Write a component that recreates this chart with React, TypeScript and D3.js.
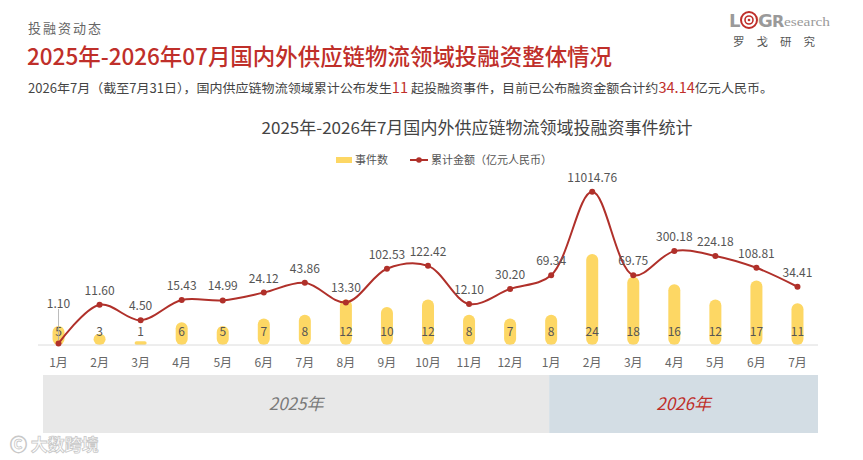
import * as d3 from 'd3';
import React from 'react';

const months = ['1月', '2月', '3月', '4月', '5月', '6月', '7月', '8月', '9月', '10月', '11月', '12月', '1月', '2月', '3月', '4月', '5月', '6月', '7月'];
const eventCounts = [5, 3, 1, 6, 5, 7, 8, 12, 10, 12, 8, 7, 8, 24, 18, 16, 12, 17, 11];
const amounts = [1.10, 11.60, 4.50, 15.43, 14.99, 24.12, 43.86, 13.30, 102.53, 122.42, 12.10, 30.20, 69.34, 11014.76, 69.75, 300.18, 224.18, 108.81, 34.41];
const years = ['2025年', '2026年'];
const yearStarts = [0, 12];

const W = 863;
const H = 460;
const FONT = '"Noto Sans CJK SC", "Noto Sans", sans-serif';
const RED = '#bf2f2a';
const LINE = '#b0302a';
const BAR = '#fdd764';

const App = () => {
	const keys = months.map((m, i) => `${i}`);
	const x = d3.scaleBand().domain(keys).range([38, 818]);
	const cx = (i: number) => (x(`${i}`) as number) + x.bandwidth() / 2;
	const base = 345;
	const yBar = d3.scaleLinear().domain([0, 24]).range([base, 254]);
	const yLine = d3.scaleLog().domain([1, 10000]).range([base, 193.4]);

	const pts: [number, number][] = amounts.map((v, i) => [cx(i), yLine(v)]);
	const path = d3.line().curve(d3.curveCatmullRom.alpha(0.5))(pts) as string;

	const barW = 12;
	const yearBoundary = cx(yearStarts[1]) - 2;
	const bands = [
		{ x0: 43, x1: yearBoundary, fill: '#e8e8e8', color: '#7a7a7a' },
		{ x0: yearBoundary, x1: 818, fill: '#d3dde4', color: RED },
	];

	return (
		<svg width={W} height={H} viewBox={`0 0 ${W} ${H}`} style={{ position: 'absolute', left: 0, top: 0, background: '#fff' }} fontFamily={FONT}>
			{/* header */}
			<text x={28} y={33} fontSize={13} fill="#666" letterSpacing={2}>投融资动态</text>
			<text x={27} y={65} fontSize={23} fill={RED} fontWeight={500} textLength={585} lengthAdjust="spacingAndGlyphs">2025年-2026年07月国内外供应链物流领域投融资整体情况</text>
			<text x={28} y={93} fontSize={12.5} fill="#444" textLength={745} lengthAdjust="spacingAndGlyphs">
				2026年7月（截至7月31日），国内供应链物流领域累计公布发生<tspan fill={RED} fontSize={14}>11</tspan> 起投融资事件，目前已公布融资金额合计约<tspan fill={RED} fontSize={14}>34.14</tspan>亿元人民币。
			</text>

			{/* logo */}
			<g>
				<text x={729} y={27} fontSize={18} fontWeight={700} fill="#9a9a9a" fontFamily="'DejaVu Sans', sans-serif">L</text>
				<circle cx={749} cy={20} r={8} fill="none" stroke={RED} strokeWidth={2} />
				<circle cx={749} cy={20} r={4} fill="none" stroke={RED} strokeWidth={1.6} />
				<circle cx={749} cy={20} r={1.3} fill={RED} />
				<text x={758} y={27} fontSize={18} fontWeight={700} fill="#9a9a9a" fontFamily="'DejaVu Sans', sans-serif">G</text>
				<text x={772} y={27} fontSize={16} fontWeight={700} fill="#9a9a9a" fontFamily="'DejaVu Sans', sans-serif">R</text>
				<text x={784} y={26} fontSize={13} fill="#9a9a9a" fontFamily="'Liberation Serif', serif" textLength={46} lengthAdjust="spacingAndGlyphs">esearch</text>
				<text x={733} y={46} fontSize={11.5} fill="#555" letterSpacing={12}>罗戈研究</text>
			</g>

			{/* chart title */}
			<text x={477} y={134} fontSize={16.5} fill="#444" textAnchor="middle" textLength={431} lengthAdjust="spacingAndGlyphs">2025年-2026年7月国内外供应链物流领域投融资事件统计</text>

			{/* legend */}
			<rect x={336} y={157} width={16} height={6} fill={BAR} />
			<text x={355} y={164} fontSize={11} fill="#555">事件数</text>
			<line x1={410} x2={428} y1={160} y2={160} stroke={LINE} strokeWidth={2} />
			<circle cx={419} cy={160} r={2.8} fill={LINE} />
			<text x={431} y={164} fontSize={11} fill="#555">累计金额（亿元人民币）</text>

			{/* bars */}
			{eventCounts.map((v, i) => {
				const top = yBar(v);
				const h = base - top;
				return (
					<rect key={`b${i}`} x={cx(i) - barW / 2} y={top} width={barW} height={h} rx={Math.min(barW / 2, h / 2)} fill={BAR} />
				);
			})}
			{eventCounts.map((v, i) => (
				<text key={`bl${i}`} x={cx(i)} y={336} fontSize={12} fill="#555" textAnchor="middle">{v}</text>
			))}

			{/* axis */}
			<line x1={38} x2={818} y1={base} y2={base} stroke="#dcdcdc" strokeWidth={1} />
			{months.map((m, i) => (
				<text key={`t${i}`} x={cx(i)} y={367} fontSize={12} fill="#666" textAnchor="middle">{m}</text>
			))}

			{/* line */}
			<line x1={cx(0)} x2={cx(0)} y1={309} y2={340} stroke="#aaa" strokeWidth={0.8} />
			<path d={path} fill="none" stroke={LINE} strokeWidth={2} />
			{pts.map(([px, py], i) => (
				<circle key={`p${i}`} cx={px} cy={py} r={3} fill={LINE} />
			))}
			{amounts.map((v, i) => (
				<text key={`l${i}`} x={cx(i)} y={i === 0 ? 308 : yLine(v) - 10} fontSize={12} fill="#555" textAnchor="middle">{v.toFixed(2)}</text>
			))}

			{/* year bands */}
			{bands.map((b, i) => (
				<g key={`y${i}`}>
					<rect x={b.x0} y={375} width={b.x1 - b.x0} height={58} fill={b.fill} />
					<text x={(b.x0 + b.x1) / 2} y={410} fontSize={17} fontStyle="italic" fill={b.color} textAnchor="middle">{years[i]}</text>
				</g>
			))}

			{/* watermark */}
			<text x={10} y={451} fontSize={17} fill="#fff" stroke="#c8c8c8" strokeWidth={0.8} fontWeight={700}>Ⓒ 大数跨境</text>
		</svg>
	);
};

export default App;
